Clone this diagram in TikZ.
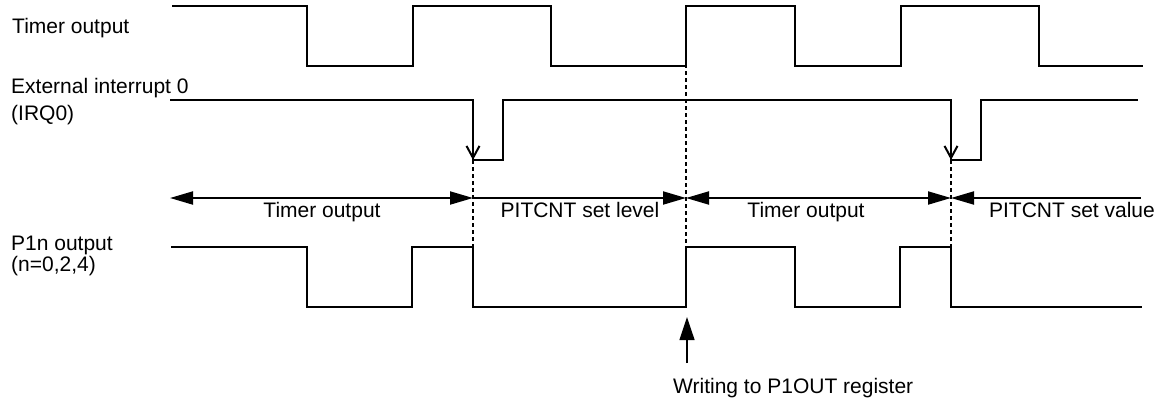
\documentclass[tikz,border=0pt]{standalone}
\usepackage{fontspec}
\setmainfont{Liberation Sans}
\usetikzlibrary{arrows.meta}
\begin{document}
\begin{tikzpicture}[x=1pt,y=-1pt,
  sig/.style={line width=2pt, line join=miter},
  guide/.style={line width=2pt, dash pattern=on 4pt off 3pt},
  txt/.style={font=\fontsize{21}{25}\selectfont, inner sep=0pt},
  lbl/.style={txt, anchor=base west},
  clbl/.style={txt, anchor=base},
  ftip/.tip={Triangle[length=23pt,width=13pt]},
  span/.style={line width=2pt},
  barb/.style={line width=2pt, -{Straight Barb[length=12pt,width=13pt]}},
  uparrow/.style={line width=1.2pt, -{Triangle[length=23pt,width=15pt]}}
]
\useasboundingbox (0,0) rectangle (1165,405);

% left labels
\node[lbl] (ltimer) at (12,33) {Timer output};
\node[lbl] (lirq1) at (11,93) {External interrupt 0};
\node[lbl] (lirq2) at (11,120) {(IRQ0)};
\node[lbl] (lp1) at (11,250) {P1n output};
\node[lbl] (lp2) at (11,271) {(n=0,2,4)};

% timer output waveform
\draw[sig] (172,6) -- (307,6) -- (307,66) -- (413,66) -- (413,6) -- (551,6)
  -- (551,66) -- (686,66) -- (686,6) -- (795,6) -- (795,66) -- (901,66)
  -- (901,6) -- (1039,6) -- (1039,66) -- (1143,66);

% IRQ0 waveform
\draw[sig] (170,100) -- (473,100) -- (473,160) -- (503,160) -- (503,100)
  -- (951,100) -- (951,160) -- (981,160) -- (981,100) -- (1138,100);
\coordinate (f1a) at (473,100); \coordinate (f1b) at (473,160);
\coordinate (f2a) at (951,100); \coordinate (f2b) at (951,160);
\draw[barb] (f1a) -- (f1b);
\draw[barb] (f2a) -- (f2b);

% P1n output waveform
\draw[sig] (171,247) -- (307,247) -- (307,307) -- (412,307) -- (412,247)
  -- (473,247) -- (473,307) -- (686,307) -- (686,247) -- (795,247)
  -- (795,307) -- (900,307) -- (900,247) -- (951,247) -- (951,307) -- (1142,307);

% guide lines
\coordinate (g1t) at (473,160); \coordinate (g1b) at (473,247);
\coordinate (g2t) at (686,8);   \coordinate (g2b) at (686,247);
\coordinate (g3t) at (951,160); \coordinate (g3b) at (951,247);
\draw[guide] (g1t) -- (g1b);
\draw[guide] (g2t) -- (g2b);
\draw[guide] (g3t) -- (g3b);

% interval arrows
\coordinate (t0) at (170,198);
\coordinate (t1) at (473,198);
\coordinate (t2) at (686,198);
\coordinate (t3) at (951,198);
\coordinate (t4) at (1141,198);
\draw[span, ftip-ftip] (t0) -- (t1);
\draw[span, -ftip] (t1) -- (t2);
\draw[span, ftip-ftip] (t2) -- (t3);
\draw[span, ftip-] (t3) -- (t4);

\node[clbl] (s1) at (322,217) {Timer output};
\node[clbl] (s2) at (580,217) {PITCNT set level};
\node[clbl] (s3) at (806,217) {Timer output};
\node[clbl] (s4) at (1072,217) {PITCNT set value};

% write arrow
\coordinate (wb) at (687,363);
\coordinate (wt) at (687,317);
\draw[uparrow] (wb) -- (wt);
\node[lbl] (wtxt) at (673,393) {Writing to P1OUT register};
\end{tikzpicture}
\end{document}
